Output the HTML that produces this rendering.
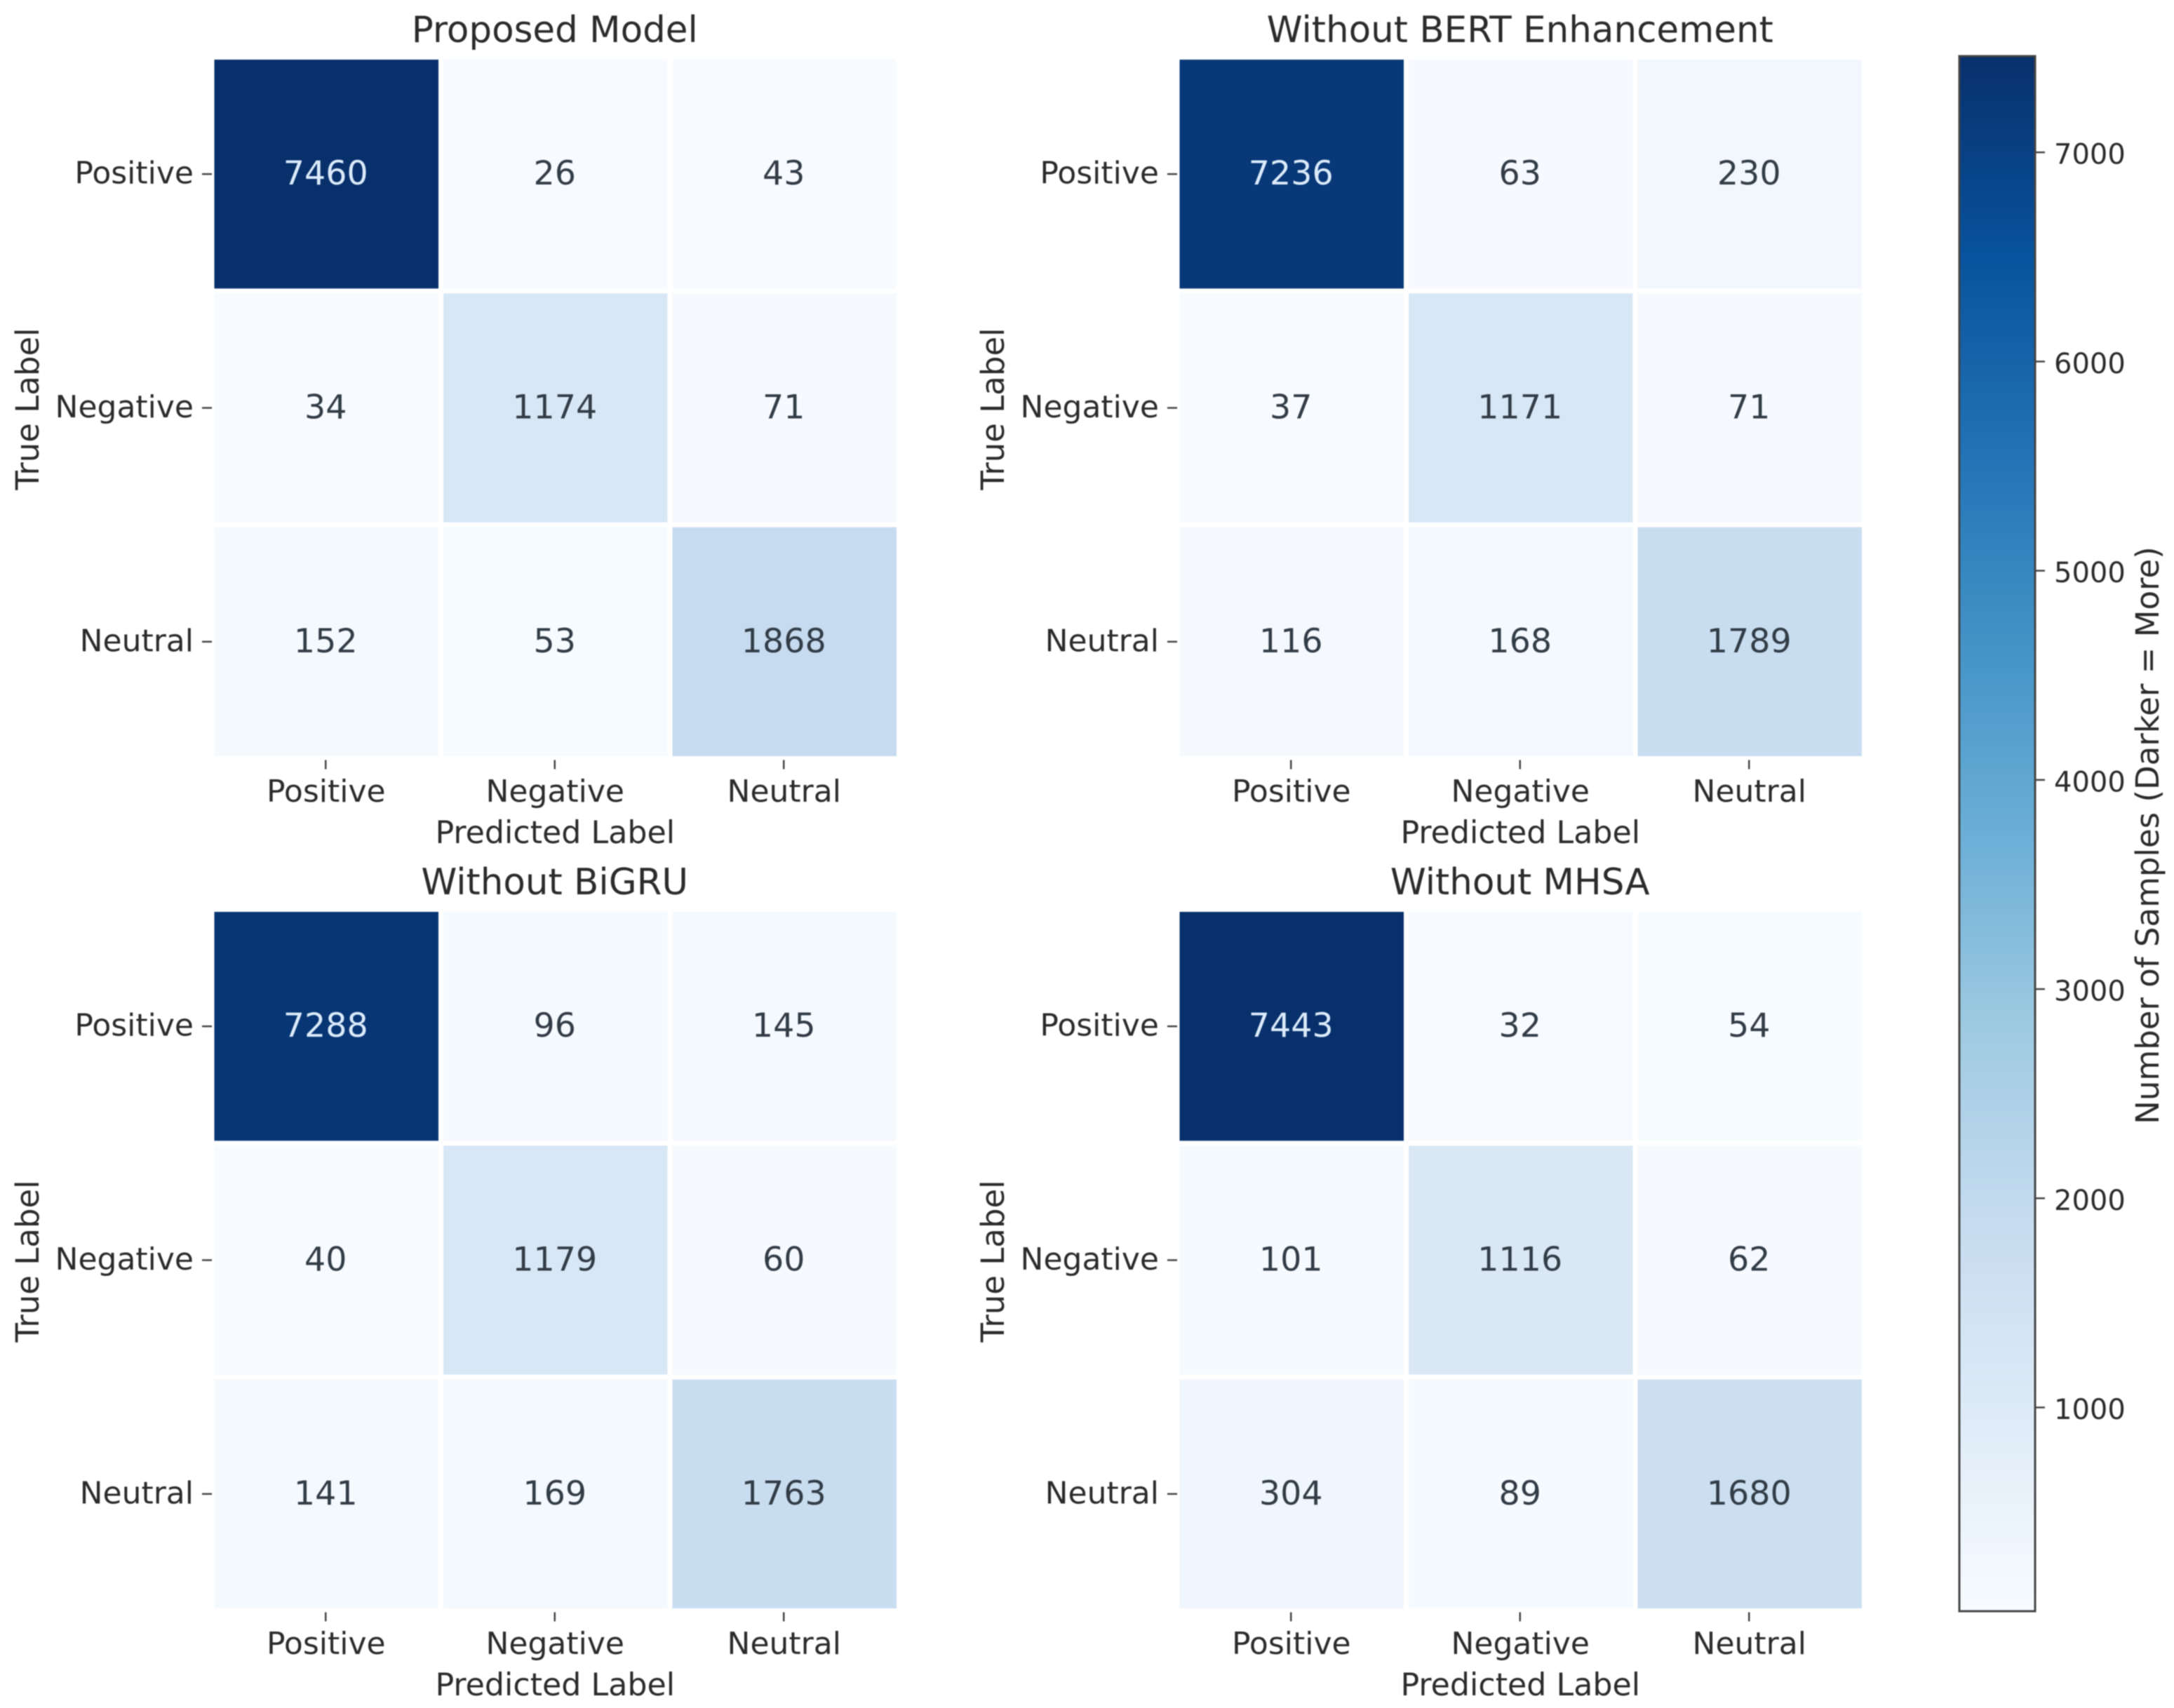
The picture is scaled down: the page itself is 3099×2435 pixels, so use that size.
<!DOCTYPE html>
<html lang="en">
<head>
<meta charset="utf-8">
<title>Confusion matrices</title>
<style>
  html, body { margin: 0; padding: 0; background: #ffffff; }
  #chart { display: block; width: 3099px; height: 2435px; filter: blur(0.8px); }
  text { font-family: "DejaVu Sans", "Liberation Sans", sans-serif; fill: #2b2b2b; }
</style>
</head>
<body>
<svg id="chart" xmlns="http://www.w3.org/2000/svg" width="3099" height="2435" viewBox="0 0 3099 2435">
  <defs>
    <linearGradient id="blues-gradient" x1="0" y1="1" x2="0" y2="0"></linearGradient>
  </defs>
  <rect x="0" y="0" width="3099" height="2435" fill="#ffffff"></rect>
  <g id="panels"></g>
  <g id="colorbar"></g>
</svg>
<script>
// ---------- data ----------
const categories = ["Positive", "Negative", "Neutral"];
const panelTitles = ["Proposed Model", "Without BERT Enhancement", "Without BiGRU", "Without MHSA"];
const proposedModel = [7460, 26, 43, 34, 1174, 71, 152, 53, 1868];
const withoutBert = [7236, 63, 230, 37, 1171, 71, 116, 168, 1789];
const withoutBigru = [7288, 96, 145, 40, 1179, 60, 141, 169, 1763];
const withoutMhsa = [7443, 32, 54, 101, 1116, 62, 304, 89, 1680];
const colorbarTicks = [1000, 2000, 3000, 4000, 5000, 6000, 7000];
const xAxisTitle = "Predicted Label";
const yAxisTitle = "True Label";
const colorbarTitle = "Number of Samples (Darker = More)";

// ---------- styling / layout ----------
const panelValues = [proposedModel, withoutBert, withoutBigru, withoutMhsa];
const bluesStops = ["#f7fbff", "#deebf7", "#c6dbef", "#9ecae1", "#6baed6", "#4292c6", "#2171b5", "#08519c", "#08306b"];
const SVG_NS = "http://www.w3.org/2000/svg";
const allValues = panelValues.flat();
const vMin = Math.min(...allValues);
const vMax = Math.max(...allValues);

const panelWidth = 979.5, panelHeight = 1000, cellInset = 3.5;
const panelLeft = col => 302 + col * 1376;
const panelTop = row => 81.5 + row * 1215;
const xScale = (col, i) => panelLeft(col) + (i + 0.5) * panelWidth / categories.length;
const yScale = (row, i) => panelTop(row) + (i + 0.5) * panelHeight / categories.length;

const cbTop = 80, cbBottom = 2297, cbLeft = 2793, cbRight = 2901;
const cbScale = v => cbBottom - (v - vMin) / (vMax - vMin) * (cbBottom - cbTop);

function hexToRgb(h) {
  return [parseInt(h.slice(1, 3), 16), parseInt(h.slice(3, 5), 16), parseInt(h.slice(5, 7), 16)];
}
function colorAt(t) {
  const clamped = Math.max(0, Math.min(1, t));
  const p = clamped * (bluesStops.length - 1);
  const i = Math.min(Math.floor(p), bluesStops.length - 2);
  const a = hexToRgb(bluesStops[i]), b = hexToRgb(bluesStops[i + 1]);
  const f = p - i;
  return "rgb(" + a.map((c, k) => Math.round(c + (b[k] - c) * f)).join(",") + ")";
}
const valueColor = v => colorAt((v - vMin) / (vMax - vMin));

function make(tag, attrs, text) {
  const el = document.createElementNS(SVG_NS, tag);
  Object.keys(attrs).forEach(k => el.setAttribute(k, attrs[k]));
  if (text !== undefined) el.textContent = text;
  return el;
}

// gradient
const gradient = document.getElementById("blues-gradient");
bluesStops.forEach((c, i) => {
  gradient.appendChild(make("stop", { offset: i / (bluesStops.length - 1), "stop-color": c }));
});

// panels
const panelsRoot = document.getElementById("panels");
panelValues.forEach((values, p) => {
  const col = p % 2, row = Math.floor(p / 2);
  const slug = panelTitles[p].toLowerCase().replace(/\s+/g, "-");
  const group = make("g", {});
  
  
  panelsRoot.appendChild(group);

  const title = make("text", { x: panelLeft(col) + panelWidth / 2 - 1, y: panelTop(row) - 21.5, "font-size": 51.5, "text-anchor": "middle" }, panelTitles[p]);
  
  
  group.appendChild(title);

  const n = categories.length;
  const pitchX = panelWidth / n, pitchY = panelHeight / n;

  values.forEach((v, k) => {
    const r = Math.floor(k / n);
    const c = k % n;
    const cell = make("rect", {
      x: xScale(col, c) - pitchX / 2 + cellInset,
      y: yScale(row, r) - pitchY / 2 + cellInset,
      width: pitchX - 2 * cellInset,
      height: pitchY - 2 * cellInset,
      fill: valueColor(v)
    });
    
    
    group.appendChild(cell);

    const dark = (v - vMin) / (vMax - vMin) > 0.6;
    const label = make("text", {
      x: xScale(col, c) - 1,
      y: yScale(row, r) + 15,
      "font-size": 47.5,
      "text-anchor": "middle",
      style: "fill:" + (dark ? "#dcebfa" : "#323c46")
    }, String(v));
    
    
    group.appendChild(label);
  });

  categories.forEach((name, i) => {
    const xTick = make("line", { x1: xScale(col, i) - 1, x2: xScale(col, i) - 1, y1: panelTop(row) + panelHeight + 2, y2: panelTop(row) + panelHeight + 15, stroke: "#444", "stroke-width": 2.5 });
    
    
    group.appendChild(xTick);

    const xLabel = make("text", { x: xScale(col, i) - 0.5, y: panelTop(row) + panelHeight + 61.5, "font-size": 44, "text-anchor": "middle" }, name);
    
    
    group.appendChild(xLabel);

    const yTick = make("line", { x1: panelLeft(col) - 14, x2: panelLeft(col), y1: yScale(row, i), y2: yScale(row, i), stroke: "#444", "stroke-width": 2.5 });
    
    
    group.appendChild(yTick);

    const yLabel = make("text", { x: panelLeft(col) - 26, y: yScale(row, i) + 13.5, "font-size": 44, "text-anchor": "end" }, name);
    
    
    group.appendChild(yLabel);
  });

  const xTitle = make("text", { x: panelLeft(col) + panelWidth / 2 - 0.5, y: panelTop(row) + panelHeight + 120.5, "font-size": 44.3, "text-anchor": "middle" }, xAxisTitle);
  
  
  group.appendChild(xTitle);

  const yTitleX = panelLeft(col) - 247;
  const yTitleY = panelTop(row) + panelHeight / 2 + 1.5;
  const yTitle = make("text", { x: yTitleX, y: yTitleY, "font-size": 45, "text-anchor": "middle", transform: "rotate(-90 " + yTitleX + " " + yTitleY + ")" }, yAxisTitle);
  
  
  group.appendChild(yTitle);
});

// colorbar
const cbRoot = document.getElementById("colorbar");
const cbFill = make("rect", { x: cbLeft, y: cbTop, width: cbRight - cbLeft, height: cbBottom - cbTop, fill: "url(#blues-gradient)", stroke: "#444444", "stroke-width": 3 });


cbRoot.appendChild(cbFill);

colorbarTicks.forEach(v => {
  const tick = make("line", { x1: cbRight, x2: cbRight + 14, y1: cbScale(v), y2: cbScale(v), stroke: "#444", "stroke-width": 2.5 });
  
  
  cbRoot.appendChild(tick);

  const label = make("text", { x: 2928, y: cbScale(v) + 16.5, "font-size": 40 }, String(v));
  
  
  cbRoot.appendChild(label);
});

const cbTitleX = 3077, cbTitleY = 1191;
const cbTitle = make("text", { x: cbTitleX, y: cbTitleY, "font-size": 45, "text-anchor": "middle", transform: "rotate(-90 " + cbTitleX + " " + cbTitleY + ")" }, colorbarTitle);


cbRoot.appendChild(cbTitle);
</script>
</body>
</html>
